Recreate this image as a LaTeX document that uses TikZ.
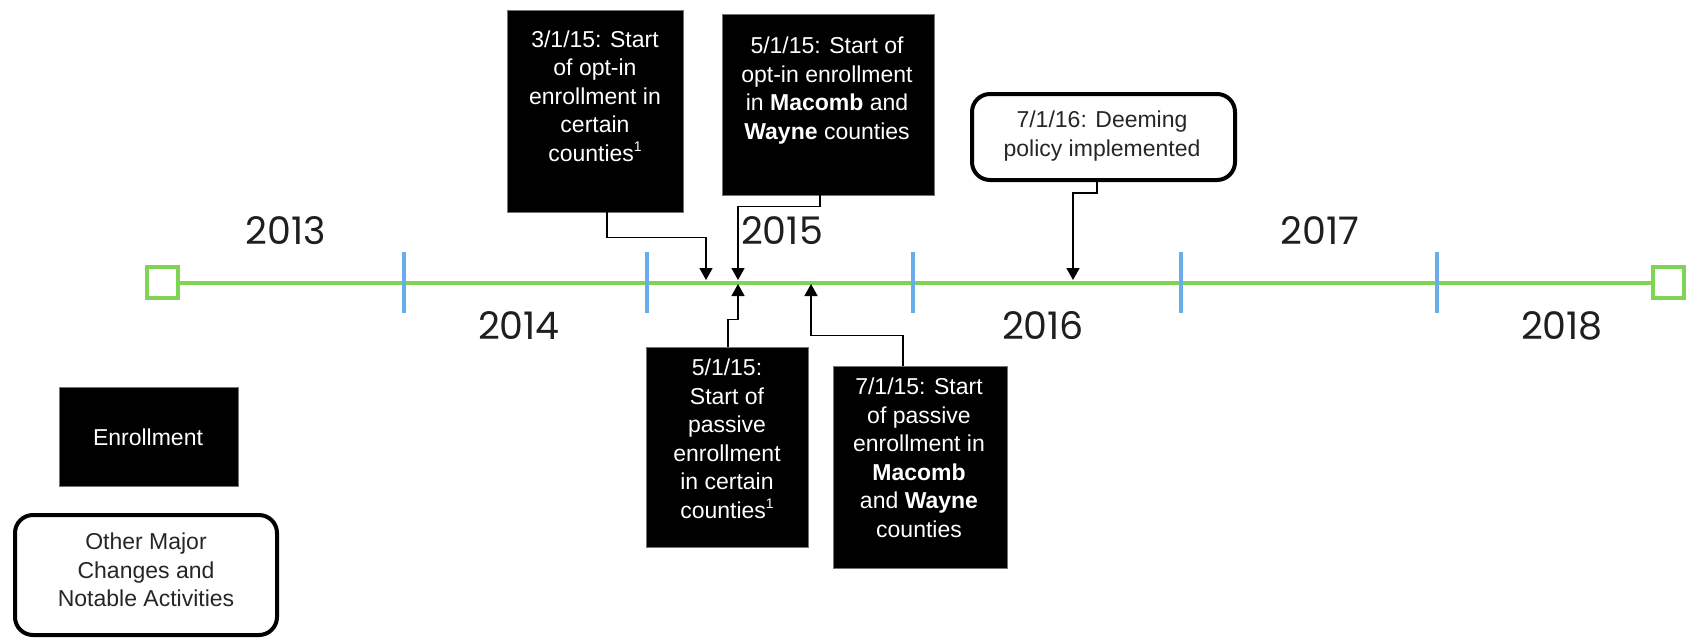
\documentclass[tikz,border=0pt]{standalone}
\usepackage{fontspec}
\setmainfont{Liberation Sans}
\newfontfamily\yearfont{Poppins}
\usetikzlibrary{arrows.meta}

\definecolor{tlgreen}{RGB}{128,212,84}
\definecolor{tlblue}{RGB}{104,172,236}

% small footnote mark after "counties"
\newcommand{\fnmark}[1]{\raisebox{0.42em}{\fontsize{7pt}{7pt}\selectfont #1}}

\tikzset{
  evbox/.style={fill=black, draw=black!55, line width=0.4pt, inner sep=0pt},
  notebox/.style={fill=white, draw=black, line width=2pt, rounded corners=9pt, inner sep=0pt},
  evtext/.style={text=white, align=center, inner sep=0pt,
    font=\fontsize{11.5pt}{14.25pt}\selectfont},
  notetext/.style={text=black!85, align=center, inner sep=0pt,
    font=\fontsize{11.5pt}{14.25pt}\selectfont},
  yearlbl/.style={text=black!88, inner sep=0pt,
    font=\yearfont\fontsize{19pt}{19pt}\selectfont},
  endbox/.style={draw=tlgreen, fill=white, line width=2pt, minimum size=15.5pt, inner sep=0pt},
  yeartick/.style={draw=tlblue, line width=2pt},
  axis/.style={draw=tlgreen, line width=2pt},
  link/.style={draw=black, line width=0.8pt, -{Triangle[width=6.5pt,length=6pt]}},
}

\begin{document}
\begin{tikzpicture}[x=0.5pt, y=-0.5pt]
\useasboundingbox (0,0) rectangle (1686,639);

% timeline axis with end markers
\node[endbox] (start) at (162.5,282.5) {};
\node[endbox] (stop)  at (1668,282.5) {};
\draw[axis] (start.east) -- (stop.west);

% year boundaries
\foreach \tx in {404,647,913,1181,1437}
  \draw[yeartick] (\tx,252) -- (\tx,313);

% year labels, alternating above and below
\node[yearlbl] (y13) at (286,231) {2013};
\node[yearlbl] (y14) at (519,326) {2014};
\node[yearlbl] (y15) at (782,231) {2015};
\node[yearlbl] (y16) at (1043,326) {2016};
\node[yearlbl] (y17) at (1320,231) {2017};
\node[yearlbl] (y18) at (1562,326) {2018};

% enrollment events
\node[evbox, minimum width=88pt, minimum height=101pt] (b1) at (595.5,111) {};
\node[evtext] (t1) at (595,96) {3/1/15: Start\\of opt-in\\enrollment in\\certain\\counties\fnmark{1}};

\node[evbox, minimum width=106pt, minimum height=90.5pt] (b2) at (828,104.5) {};
\node[evtext] (t2) at (827,90.5) {5/1/15: Start of\\opt-in enrollment\\in \textbf{Macomb} and\\\textbf{Wayne} counties};

\node[evbox, minimum width=81pt, minimum height=100pt] (b3) at (727,447) {};
\node[evtext] (t3) at (727,439) {5/1/15:\\Start of\\passive\\enrollment\\in certain\\counties\fnmark{1}};

\node[evbox, minimum width=87pt, minimum height=101pt] (b4) at (920,467) {};
\node[evtext] (t4) at (919,458) {7/1/15: Start\\of passive\\enrollment in\\\textbf{Macomb}\\and \textbf{Wayne}\\counties};

% other major change
\node[notebox, minimum width=131.5pt, minimum height=43pt] (b5) at (1103.5,137) {};
\node[notetext] (t5) at (1102,136) {7/1/16: Deeming\\policy implemented};

% points on the axis
\coordinate (m1) at (706,280);
\coordinate (m2) at (738,280);
\coordinate (m3) at (738,284);
\coordinate (m4) at (811,284);
\coordinate (m5) at (1073,280);

\draw[link] ([xshift=5.75pt]b1.south) -- ++(0,25) -| (m1);
\draw[link] ([xshift=-4pt]b2.south) -- ++(0,11) -| (m2);
\draw[link] ([xshift=0.5pt]b3.north) -- ++(0,-27) -| (m3);
\draw[link] ([xshift=-8.5pt]b4.north) -- ++(0,-30) -| (m4);
\draw[link] ([xshift=-3.25pt]b5.south) -- ++(0,11) -| (m5);

% legend
\node[evbox, minimum width=89.5pt, minimum height=49.5pt] (lg1) at (148.5,436.5) {};
\node[evtext] (lt1) at (148,437) {Enrollment};
\node[notebox, minimum width=131pt, minimum height=60pt] (lg2) at (146,575) {};
\node[notetext] (lt2) at (146,570) {Other Major\\Changes and\\Notable Activities};
\end{tikzpicture}
\end{document}
